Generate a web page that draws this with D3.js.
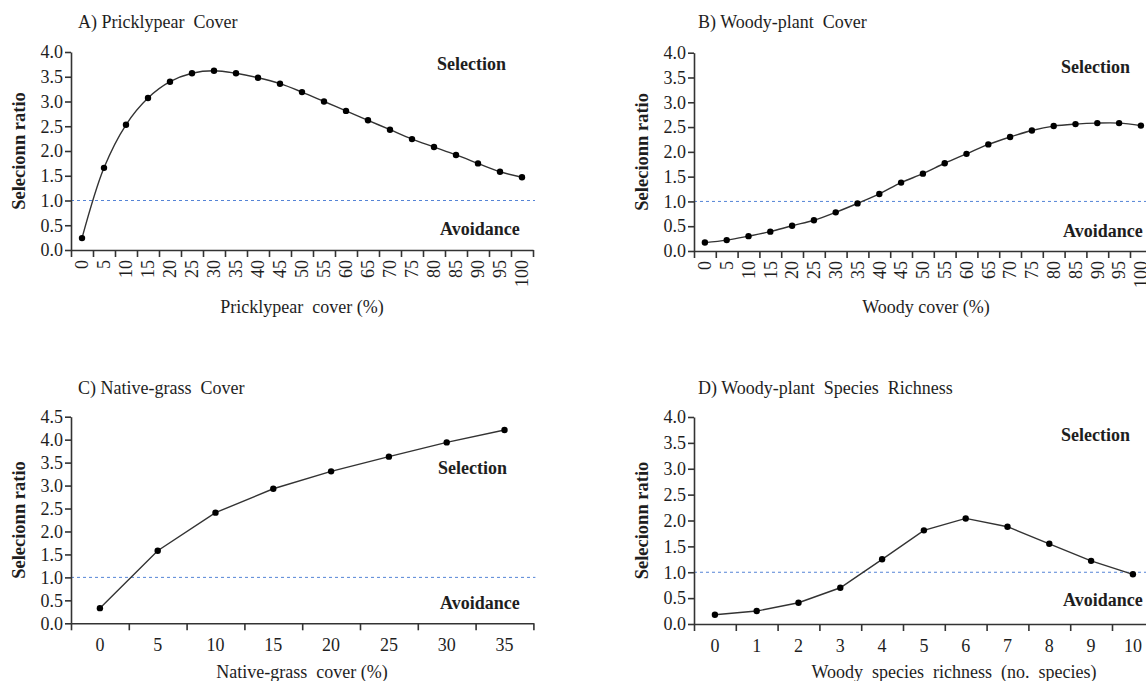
<!DOCTYPE html>
<html>
<head>
<meta charset="utf-8">
<script src="https://cdn.jsdelivr.net/npm/d3@7"></script>
<style>
body { margin:0; background:#fff; }
</style>
</head>
<body>
<svg id="chart"></svg>
<script>
// category labels and ratios
var pricklyCover = ["0","5","10","15","20","25","30","35","40","45","50","55","60","65","70","75","80","85","90","95","100"]
var pricklyRatio = [0.24,1.66,2.53,3.07,3.40,3.57,3.62,3.57,3.48,3.36,3.19,3.00,2.81,2.62,2.43,2.24,2.08,1.92,1.75,1.58,1.47]

var woodyCover = ["0","5","10","15","20","25","30","35","40","45","50","55","60","65","70","75","80","85","90","95","100"]
var woodyRatio = [0.17,0.22,0.30,0.39,0.51,0.62,0.78,0.96,1.15,1.38,1.56,1.77,1.96,2.15,2.30,2.43,2.52,2.56,2.58,2.58,2.53]

var grassCover = ["0","5","10","15","20","25","30","35"]
var grassRatio = [0.33,1.58,2.41,2.93,3.31,3.63,3.94,4.21]

var richness = ["0","1","2","3","4","5","6","7","8","9","10"]
var richnessRatio = [0.18,0.25,0.41,0.70,1.25,1.81,2.04,1.88,1.55,1.22,0.96]

var yTicks4 = [0,0.5,1,1.5,2,2.5,3,3.5,4]
var yTicks45 = [0,0.5,1,1.5,2,2.5,3,3.5,4,4.5]
var refLine = 1

var serif = "Liberation Serif, Times New Roman, serif"
var ink = "#1e1e1e"
var screen = {width:1146,height:681}

var svg = d3.select("#chart")
    .attr("width",screen.width)
    .attr("height",screen.height)
    .style("font-family",serif)

var styleText = function(sel,size,bold)
{
    sel.style("font-family",serif)
    .style("font-size",size+"px")
    .style("font-weight",bold ? "bold" : "normal")
    .style("fill",ink)
    .style("white-space","pre")
}

var drawPanel = function(p)
{
    var n = p.cats.length
    var x1 = p.x0 + n*p.bw
    var g = svg.append("g")

    var xBand = d3.scaleBand()
    .domain(p.cats)
    .range([p.x0,x1])

    var xEdge = d3.scaleLinear()
    .domain([0,n])
    .range([p.x0,x1])

    var yScale = d3.scaleLinear()
    .domain([0,p.yTicks[p.yTicks.length-1]])
    .range([p.yBot,p.yTop])

    // dashed reference line at ratio = 1
    g.append("line")
    .attr("x1",p.x0)
    .attr("x2",Math.min(x1+2,screen.width))
    .attr("y1",yScale(refLine))
    .attr("y2",yScale(refLine))
    .attr("stroke","#5584d6")
    .attr("stroke-width",1)
    .attr("stroke-dasharray","3,3")

    // x axis: ticks on band edges
    var xAxisG = g.append("g")
    .attr("transform","translate(0,"+p.yBot+")")
    .call(d3.axisBottom(xEdge).tickValues(d3.range(n+1)).tickFormat("").tickSize(7).tickSizeOuter(0))
    xAxisG.selectAll("path,line").attr("stroke","#333").attr("stroke-width",1.6)

    // x labels at band centres
    var xLab = g.append("g")
    .attr("transform","translate(0,"+p.yBot+")")
    .call(d3.axisBottom(xBand).tickSize(0).tickPadding(p.rotate ? 0 : 15))
    xLab.select(".domain").remove()
    styleText(xLab.selectAll("text"),18,false)
    if (p.rotate)
    {
        xLab.selectAll("text")
        .attr("transform","rotate(-90)")
        .attr("y",0)
        .attr("x",-10)
        .attr("dy","0.35em")
        .style("text-anchor","end")
    }

    // y axis
    var yAxisG = g.append("g")
    .attr("transform","translate("+p.x0+",0)")
    .call(d3.axisLeft(yScale).tickValues(p.yTicks).tickFormat(d3.format(".1f")).tickSize(6).tickSizeOuter(0).tickPadding(2))
    yAxisG.selectAll("path,line").attr("stroke","#333").attr("stroke-width",1.6)
    styleText(yAxisG.selectAll("text"),18,false)

    var pts = p.cats.map(function(c,i){ return {cat:c,val:p.vals[i]} })

    var line = d3.line()
    .x(function(d){ return xBand(d.cat)+xBand.bandwidth()/2 })
    .y(function(d){ return yScale(d.val) })
    .curve(p.smooth ? d3.curveCatmullRom.alpha(0.5) : d3.curveLinear)

    g.append("path")
    .datum(pts)
    .attr("d",line)
    .attr("fill","none")
    .attr("stroke","#333")
    .attr("stroke-width",1.4)

    g.selectAll("circle")
    .data(pts)
    .enter()
    .append("circle")
    .attr("cx",function(d){ return xBand(d.cat)+xBand.bandwidth()/2 })
    .attr("cy",function(d){ return yScale(d.val) })
    .attr("r",3.2)
    .attr("fill","#000")

    // titles and labels
    g.append("text")
    .attr("x",p.titleX)
    .attr("y",p.titleY)
    .text(p.title)
    .call(styleText,18,false)

    g.append("text")
    .attr("transform","translate("+(p.x0-52)+","+((p.yTop+p.yBot)/2)+") rotate(-90)")
    .attr("text-anchor","middle")
    .attr("dy","0.35em")
    .text("Selecionn ratio")
    .call(styleText,18.5,true)

    g.append("text")
    .attr("x",p.xTitleX)
    .attr("y",p.xTitleY)
    .attr("text-anchor","middle")
    .text(p.xTitle)
    .call(styleText,18,false)

    g.append("text")
    .attr("x",p.selX)
    .attr("y",p.selY)
    .text("Selection")
    .call(styleText,18,true)

    g.append("text")
    .attr("x",p.avoX)
    .attr("y",p.avoY)
    .text("Avoidance")
    .call(styleText,18,true)
}

drawPanel({cats:pricklyCover,vals:pricklyRatio,yTicks:yTicks4,x0:71,bw:22,yTop:52,yBot:250,
    rotate:true,smooth:true,title:"A) Pricklypear  Cover",titleX:78,titleY:28,
    xTitle:"Pricklypear  cover (%)",xTitleX:302,xTitleY:313,
    selX:437,selY:70,avoX:440,avoY:235})

drawPanel({cats:woodyCover,vals:woodyRatio,yTicks:yTicks4,x0:694,bw:21.8,yTop:52.7,yBot:251,
    rotate:true,smooth:true,title:"B) Woody-plant  Cover",titleX:698,titleY:28,
    xTitle:"Woody cover (%)",xTitleX:926,xTitleY:313,
    selX:1061,selY:73,avoX:1063,avoY:237})

drawPanel({cats:grassCover,vals:grassRatio,yTicks:yTicks45,x0:71,bw:57.8,yTop:416.7,yBot:623.3,
    rotate:false,smooth:false,title:"C) Native-grass  Cover",titleX:78,titleY:394,
    xTitle:"Native-grass  cover (%)",xTitleX:302,xTitleY:678,
    selX:438,selY:474,avoX:440,avoY:609})

drawPanel({cats:richness,vals:richnessRatio,yTicks:yTicks4,x0:694,bw:41.8,yTop:417,yBot:624,
    rotate:false,smooth:false,title:"D) Woody-plant  Species  Richness",titleX:698,titleY:394,
    xTitle:"Woody  species  richness  (no.  species)",xTitleX:954,xTitleY:678,
    selX:1061,selY:441,avoX:1063,avoY:606})
</script>
</body>
</html>
